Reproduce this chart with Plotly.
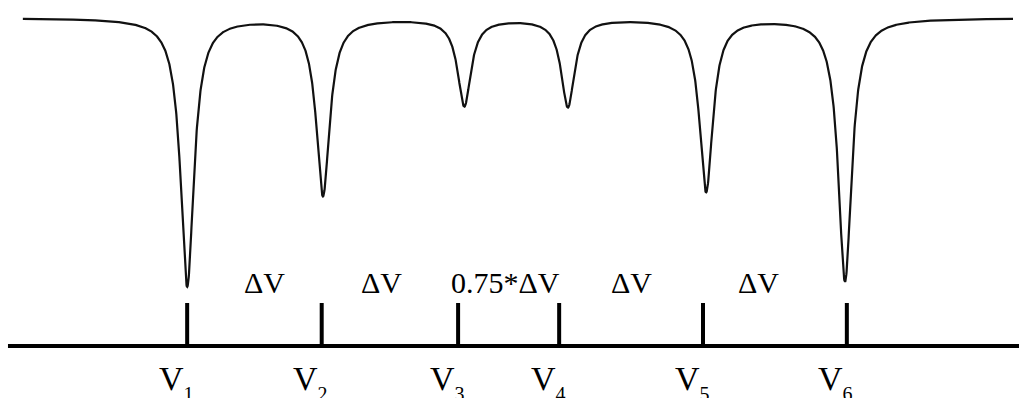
import numpy as np
import plotly.graph_objects as go

# ---- data (velocity in mm/s, transmission relative) ----
dip_velocity = [-5.32, -3.13, -0.85, 0.82, 3.05, 5.29]
dip_depth = [0.268, 0.177, 0.087, 0.088, 0.173, 0.263]
dip_hwhm = [0.13, 0.13, 0.13, 0.13, 0.13, 0.13]
baseline_transmission = 1.0
velocity_span = [-7.97, 8.0]

tick_velocity = [-5.32, -3.15, -0.95, 0.68, 3.00, 5.32]
tick_letter = "V"
tick_index = ["1", "2", "3", "4", "5", "6"]
interval_velocity = [-4.08, -2.18, -0.18, 1.84, 3.90]
interval_labels = ["ΔV", "ΔV", "0.75*ΔV", "ΔV", "ΔV"]

axis_level = 0.672
tick_top = 0.715
axis_span = [-8.21, 8.1]

# ---- build spectrum from the read line parameters ----
v = np.linspace(velocity_span[0], velocity_span[1], 4000)
t = np.full_like(v, baseline_transmission)
for c, d, g in zip(dip_velocity, dip_depth, dip_hwhm):
    t -= d / (1.0 + ((v - c) / g) ** 2)

fig = go.Figure()
fig.add_trace(go.Scatter(x=v, y=t, mode="lines",
                         line=dict(color="#111111", width=2.2),
                         hoverinfo="skip", showlegend=False))
# velocity axis line
fig.add_trace(go.Scatter(x=axis_span, y=[axis_level, axis_level], mode="lines",
                         line=dict(color="black", width=4),
                         hoverinfo="skip", showlegend=False))
# tick marks
tx, ty = [], []
for p in tick_velocity:
    tx += [p, p, None]
    ty += [axis_level, tick_top, None]
fig.add_trace(go.Scatter(x=tx, y=ty, mode="lines",
                         line=dict(color="black", width=4),
                         hoverinfo="skip", showlegend=False))

serif = "Liberation Serif, Times New Roman, serif"
for p, idx in zip(tick_velocity, tick_index):
    label = (tick_letter + "<span style='font-size:20px;baseline-shift:-11px'>"
             + idx + "</span>")
    fig.add_annotation(x=p, y=0.639, xref="x", yref="y", text=label,
                       showarrow=False, xshift=-11, yshift=-3, yanchor="middle",
                       font=dict(family=serif, size=34, color="black"))
for p, lab in zip(interval_velocity, interval_labels):
    fig.add_annotation(x=p, y=0.736, xref="x", yref="y", text=lab,
                       showarrow=False,
                       font=dict(family=serif, size=30, color="black"))

fig.update_layout(
    width=1019, height=398,
    margin=dict(l=0, r=0, t=0, b=0),
    paper_bgcolor="white", plot_bgcolor="white",
    xaxis=dict(range=[-517 / 62, 502 / 62], visible=False, fixedrange=True),
    yaxis=dict(range=[0.620, 1.018], visible=False, fixedrange=True),
)
fig.write_html("out.html")
